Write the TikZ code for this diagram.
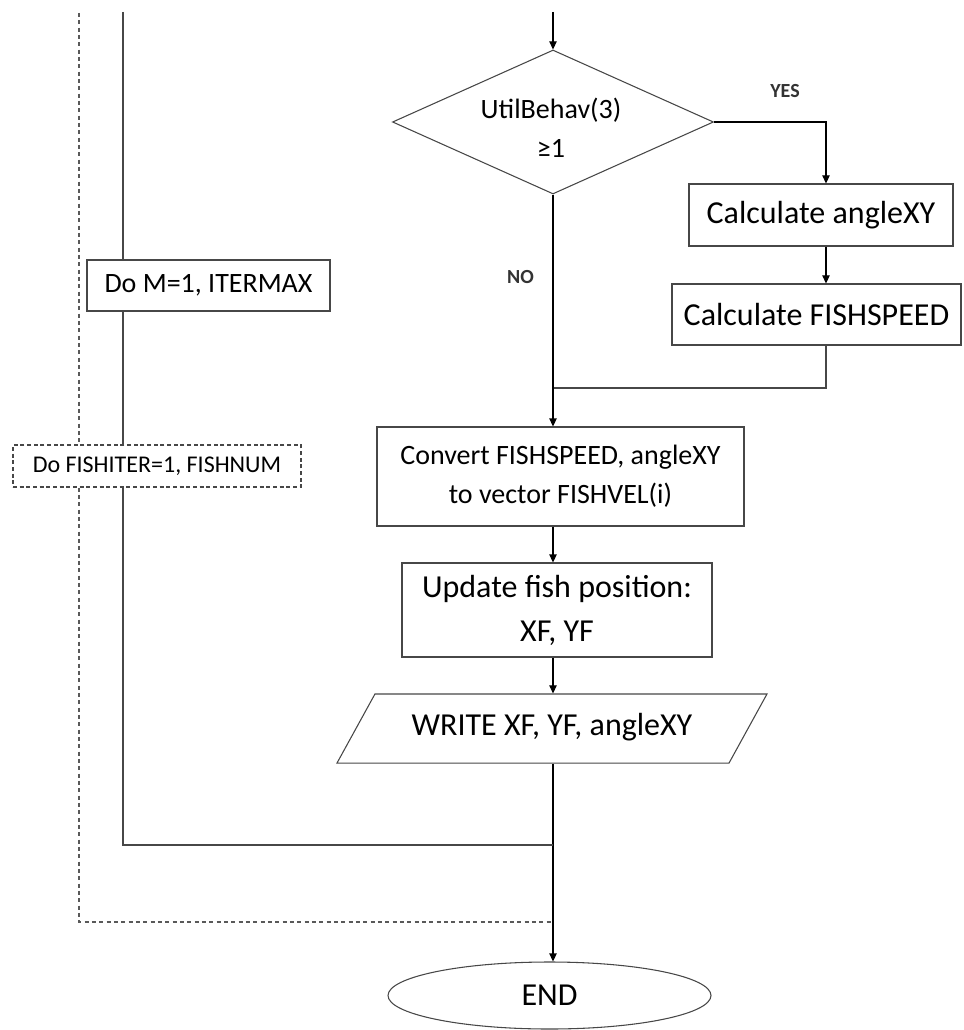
\documentclass[tikz,border=0pt]{standalone}
\usepackage{fontspec}
\setmainfont{Carlito}
\usetikzlibrary{shapes.geometric,arrows.meta}
% font sizes used in the chart
\newcommand\fbig{\fontsize{24}{33}\selectfont}
\newcommand\fmid{\fontsize{21}{29.5}\selectfont}
\newcommand\fsmall{\fontsize{18}{22}\selectfont}
\newcommand\ftag{\fontsize{15}{17}\selectfont\bfseries}
\begin{document}
\begin{tikzpicture}[x=0.75pt,y=-0.75pt,
  box/.style={draw=black!72,line width=0.8pt,rectangle,inner sep=0pt,align=center,text=black},
  loopbox/.style={box,dash pattern=on 3pt off 2pt},
  flow/.style={draw=black,line width=0.8pt,-{Triangle[length=6pt,width=5.5pt]}},
  link/.style={draw=black!72,line width=0.8pt},
  dloop/.style={draw=black!65,line width=0.8pt,dash pattern=on 3pt off 2.5pt},
  tag/.style={font=\ftag,text=black!80,inner sep=0pt}]
\useasboundingbox (0,0) rectangle (963,1030);

% loop headers on the left
\node[box,minimum width=182.25pt,minimum height=38.25pt,font=\fmid] (doM) at (208.5,285.5) {Do M=1, ITERMAX};
\node[loopbox,minimum width=216pt,minimum height=31.5pt,font=\fsmall] (doF) at (157,466) {Do FISHITER=1, FISHNUM};

% decision
\node[diamond,draw=black!72,line width=0.8pt,minimum width=240.75pt,minimum height=108pt,inner sep=0pt] (dec) at (553,122) {};
\node[align=center,font=\fmid,text=black,inner sep=0pt] (cond) at (551,128) {UtilBehav(3)\\≥1};

% process steps
\node[box,minimum width=198pt,minimum height=46.5pt,font=\fbig] (calcA) at (821,215) {Calculate angleXY};
\node[box,minimum width=216.75pt,minimum height=45.75pt,font=\fbig] (calcF) at (816.5,314.5) {Calculate FISHSPEED};
\node[box,minimum width=275.25pt,minimum height=74.25pt,font=\fmid] (conv) at (560.5,476.5) {Convert FISHSPEED, angleXY\\to vector FISHVEL(i)};
\node[box,minimum width=232.5pt,minimum height=70.5pt,font=\fbig] (upd) at (557,610) {Update fish position:\\XF, YF};
% output step: the slant follows the full height, so the height comes from the inner sep
\node[trapezium,trapezium left angle=61.2,trapezium right angle=118.8,trapezium stretches body,
      draw=black!72,line width=0.8pt,text height=16pt,text depth=5pt,inner xsep=0pt,inner ysep=15.4pt,
      minimum width=322.5pt,font=\fbig,text=black] (wr) at (552,728.5) {WRITE XF, YF, angleXY};
\node[ellipse,draw=black!72,line width=0.8pt,minimum width=242.25pt,minimum height=50.25pt,inner sep=0pt,
      font=\fbig,text=black] (end) at (549.5,995.5) {END};

% branch labels
\node[tag] (yes) at (785,91) {YES};
\node[tag] (no) at (520.5,277) {NO};

% helper points
\coordinate (mtop) at (553,12);
\coordinate (ycol) at (826,122);
\coordinate (yjoin) at (553,388);
\coordinate (ltop) at (123,12);
\coordinate (lbot) at (123,845);
\coordinate (mjoin) at (553,845);
\coordinate (dtop) at (79,13);
\coordinate (dbot) at (79,922);
\coordinate (djoin) at (553,922);

% main column
\draw[flow] (mtop) -- (dec.north);
\draw[flow] (dec.east) -| (ycol |- calcA.north);
\draw[flow] (ycol |- calcA.south) -- (ycol |- calcF.north);
\draw[link] (ycol |- calcF.south) |- (yjoin);
\draw[flow] (dec.south) -- (dec.south |- conv.north);
\draw[flow] (dec.south |- conv.south) -- (dec.south |- upd.north);
\draw[flow] (dec.south |- upd.south) -- (dec.south |- wr.north);
\draw[flow] (dec.south |- wr.south) -- (dec.south |- end.north);

% outer loop (solid) and inner loop (dashed)
\draw[link] (ltop) -- (ltop |- doM.north);
\draw[link] (ltop |- doM.south) -- (ltop |- doF.north);
\draw[link] (ltop |- doF.south) -- (lbot) -- (mjoin);
\draw[dloop] (dtop) -- (dtop |- doF.north);
\draw[dloop] (dtop |- doF.south) -- (dbot) -- (djoin);
\end{tikzpicture}
\end{document}
